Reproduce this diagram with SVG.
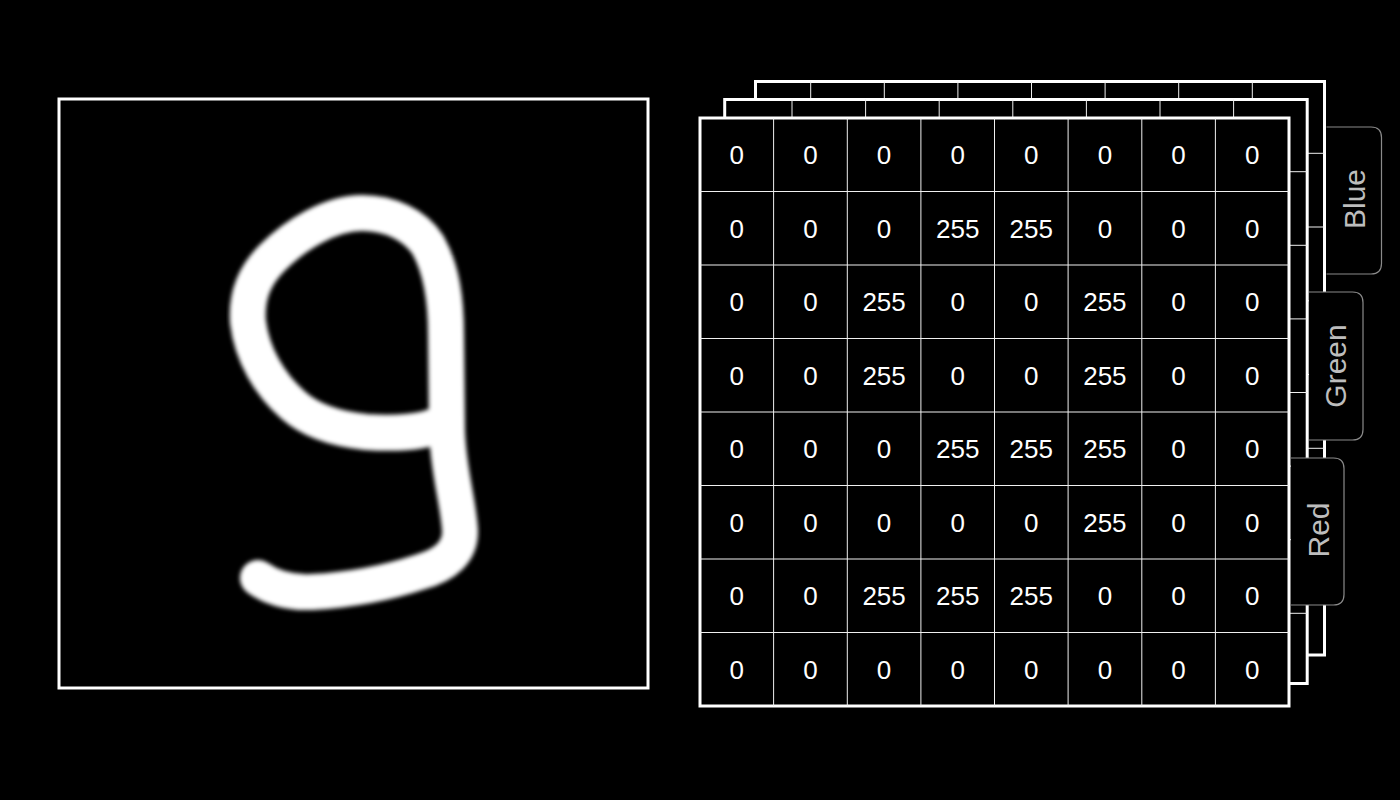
<svg xmlns="http://www.w3.org/2000/svg" width="1400" height="800" viewBox="0 0 1400 800">
<defs>
<style>
.frame{fill:#000;stroke:#fff;stroke-width:3}
.grid{stroke:#f0f0f0;stroke-width:1;fill:none}
.num{font-family:"Liberation Sans",Arial,sans-serif;font-size:26px;fill:#fff;text-anchor:middle}
.tab{fill:#000;stroke:#8a8a8a;stroke-width:1.2}
.tablbl{font-family:"Liberation Sans",Arial,sans-serif;font-size:30px;fill:#bdbdbd;text-anchor:middle}
</style>
<filter id="soft" x="-10%" y="-10%" width="120%" height="120%">
<feGaussianBlur stdDeviation="2"/>
</filter>
</defs>
<rect width="1400" height="800" fill="#000"/>

<g id="image-panel">
<rect class="frame" x="59" y="99" width="589" height="589"/>
<path filter="url(#soft)" fill="none" stroke="#fff" stroke-width="36" stroke-linecap="round" stroke-linejoin="round"
 d="M 440 424 C 425 432 395 434 366 432 C 335 429 310 420 293 405 C 270 385 252 355 248 322 C 246 295 255 275 272 258 C 295 235 330 213 362 213 C 390 213 415 225 428 245 C 442 270 446 300 446 335 L 447 430 C 448 470 458 500 460 530 C 461 552 445 565 420 572 C 390 582 350 590 312 592 C 290 593 272 588 258 578"/>
</g>

<g id="blue-channel">
<rect class="frame" x="755.5" y="81.5" width="569" height="573.5"/>
<path class="grid" d="M810.7 81.5V655 M884.3 81.5V655 M957.9 81.5V655 M1031.5 81.5V655 M1105.1 81.5V655 M1178.7 81.5V655 M1252.3 81.5V655
M755.5 153.3H1324.5 M755.5 227H1324.5 M755.5 300.8H1324.5 M755.5 374.5H1324.5 M755.5 448.3H1324.5 M755.5 522H1324.5 M755.5 595.8H1324.5"/>
</g>

<g id="green-channel">
<rect class="frame" x="724.7" y="99.5" width="582.5" height="584"/>
<path class="grid" d="M792 99.5V683.5 M865.6 99.5V683.5 M939.2 99.5V683.5 M1012.8 99.5V683.5 M1086.4 99.5V683.5 M1160 99.5V683.5 M1233.6 99.5V683.5
M724.7 171.7H1307.2 M724.7 245.3H1307.2 M724.7 318.9H1307.2 M724.7 392.5H1307.2 M724.7 466.1H1307.2 M724.7 539.7H1307.2 M724.7 613.3H1307.2"/>
</g>

<g id="red-channel">
<rect class="frame" x="700" y="118" width="589" height="588"/>
<path class="grid" d="M773.6 118V706 M847.3 118V706 M920.9 118V706 M994.5 118V706 M1068.1 118V706 M1141.8 118V706 M1215.4 118V706
M700 191.5H1289 M700 265H1289 M700 338.5H1289 M700 412H1289 M700 485.5H1289 M700 559H1289 M700 632.5H1289"/>
<g class="num">
<text x="736.8" y="164.1">0</text><text x="810.4" y="164.1">0</text><text x="884.1" y="164.1">0</text><text x="957.7" y="164.1">0</text><text x="1031.3" y="164.1">0</text><text x="1104.9" y="164.1">0</text><text x="1178.6" y="164.1">0</text><text x="1252.2" y="164.1">0</text>
<text x="736.8" y="237.6">0</text><text x="810.4" y="237.6">0</text><text x="884.1" y="237.6">0</text><text x="957.7" y="237.6">255</text><text x="1031.3" y="237.6">255</text><text x="1104.9" y="237.6">0</text><text x="1178.6" y="237.6">0</text><text x="1252.2" y="237.6">0</text>
<text x="736.8" y="311.1">0</text><text x="810.4" y="311.1">0</text><text x="884.1" y="311.1">255</text><text x="957.7" y="311.1">0</text><text x="1031.3" y="311.1">0</text><text x="1104.9" y="311.1">255</text><text x="1178.6" y="311.1">0</text><text x="1252.2" y="311.1">0</text>
<text x="736.8" y="384.6">0</text><text x="810.4" y="384.6">0</text><text x="884.1" y="384.6">255</text><text x="957.7" y="384.6">0</text><text x="1031.3" y="384.6">0</text><text x="1104.9" y="384.6">255</text><text x="1178.6" y="384.6">0</text><text x="1252.2" y="384.6">0</text>
<text x="736.8" y="458.1">0</text><text x="810.4" y="458.1">0</text><text x="884.1" y="458.1">0</text><text x="957.7" y="458.1">255</text><text x="1031.3" y="458.1">255</text><text x="1104.9" y="458.1">255</text><text x="1178.6" y="458.1">0</text><text x="1252.2" y="458.1">0</text>
<text x="736.8" y="531.6">0</text><text x="810.4" y="531.6">0</text><text x="884.1" y="531.6">0</text><text x="957.7" y="531.6">0</text><text x="1031.3" y="531.6">0</text><text x="1104.9" y="531.6">255</text><text x="1178.6" y="531.6">0</text><text x="1252.2" y="531.6">0</text>
<text x="736.8" y="605.1">0</text><text x="810.4" y="605.1">0</text><text x="884.1" y="605.1">255</text><text x="957.7" y="605.1">255</text><text x="1031.3" y="605.1">255</text><text x="1104.9" y="605.1">0</text><text x="1178.6" y="605.1">0</text><text x="1252.2" y="605.1">0</text>
<text x="736.8" y="678.6">0</text><text x="810.4" y="678.6">0</text><text x="884.1" y="678.6">0</text><text x="957.7" y="678.6">0</text><text x="1031.3" y="678.6">0</text><text x="1104.9" y="678.6">0</text><text x="1178.6" y="678.6">0</text><text x="1252.2" y="678.6">0</text>
</g>
</g>

<g id="tab-blue">
<path class="tab" d="M1326.5 127 H1371 Q1381.5 127 1381.5 137.5 V263.5 Q1381.5 274 1371 274 H1326.5"/>
<text class="tablbl" transform="translate(1365,199) rotate(-90)">Blue</text>
</g>
<g id="tab-green">
<path class="tab" d="M1309 292 H1352.5 Q1363 292 1363 302.5 V429.5 Q1363 440 1352.5 440 H1309"/>
<text class="tablbl" transform="translate(1346,366) rotate(-90)">Green</text>
</g>
<g id="tab-red">
<path class="tab" d="M1291 458 H1333.5 Q1344 458 1344 468.5 V594.5 Q1344 605 1333.5 605 H1291"/>
<text class="tablbl" transform="translate(1328.5,530) rotate(-90)">Red</text>
</g>
</svg>
